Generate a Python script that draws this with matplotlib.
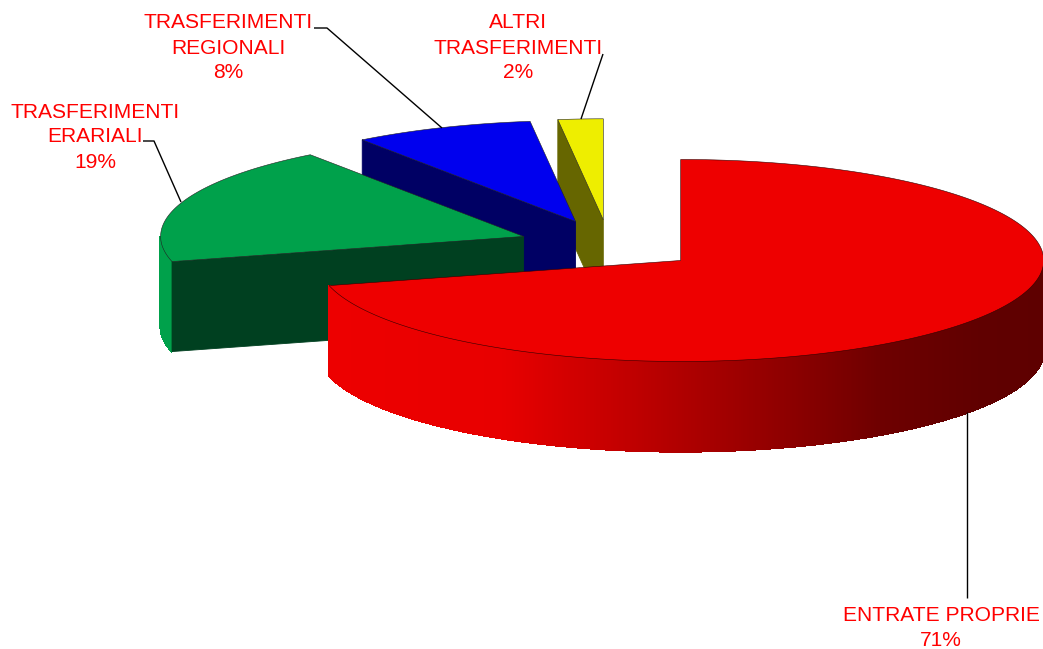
"""Exploded 3D-look pie of revenue shares, drawn with plain polygons."""

import matplotlib

matplotlib.use("Agg")
import matplotlib.pyplot as plt
import numpy as np
from matplotlib.patches import Polygon

plt.rcParams["font.family"] = ["Liberation Sans", "DejaVu Sans"]

LABELS = ["ENTRATE PROPRIE", "TRASFERIMENTI\nERARIALI", "TRASFERIMENTI\nREGIONALI", "ALTRI\nTRASFERIMENTI"]
SHARES = [71, 19, 8, 2]

TOP_COLORS = ["#ee0000", "#00a14b", "#0000ee", "#eeee00"]
CUT_COLORS = ["#ee0000", "#004020", "#000064", "#666600"]

# pie geometry in image pixels
CX, CY = 609, 245
RX, RY = 363, 101
DEPTH = 90
EXPLODE = 0.25

# shading of the outer wall from left to right
SHADE_X = [300, 500, 620, 760, 880, 980, 1043]
SHADE_R = [238, 232, 195, 150, 110, 96, 94]

# label centre, then leader line
LABEL_POS = [(941, 628), (95, 137), (228, 48), (518, 48)]
LEADERS = [
    [(967, 412), (967, 598)],
    [(143, 141), (154, 141), (181, 202)],
    [(314, 28), (327, 28), (442, 128)],
    [(603, 54), (581, 119)],
]


def rim(cx, cy, angles):
    a = np.radians(angles)
    return np.column_stack([cx + RX * np.sin(a), cy - RY * np.cos(a)])


def draw_slice(ax, i, start, end):
    mid = np.radians((start + end) / 2)
    cx = CX + EXPLODE * RX * np.sin(mid)
    cy = CY - EXPLODE * RY * np.cos(mid)
    down = np.array([0, DEPTH])

    # outer wall, only the part facing the viewer
    lo, hi = max(start, 90), min(end, 270)
    if lo < hi:
        angles = np.linspace(lo, hi, int((hi - lo) * 3) + 2)
        pts = rim(cx, cy, angles)
        for a, b in zip(pts[:-1], pts[1:]):
            level = np.interp((a[0] + b[0]) / 2, SHADE_X, SHADE_R) / 238
            base = matplotlib.colors.to_rgb(TOP_COLORS[i])
            color = tuple(c * level for c in base)
            ax.add_patch(Polygon([a, b, b + down, a + down], fc=color, ec=color, lw=1.0, antialiased=False))

    # flat cut face left by the explosion
    if i > 0:
        corner = rim(cx, cy, [start])[0]
        apex = np.array([cx, cy])
        ax.add_patch(Polygon([apex, corner, corner + down, apex + down],
                             fc=CUT_COLORS[i], ec=CUT_COLORS[i], lw=0.6))

    arc = rim(cx, cy, np.linspace(start, end, 300))
    ax.add_patch(Polygon(np.vstack([[cx, cy], arc]), fc=TOP_COLORS[i], ec="#300000" if i == 0 else "#222222", lw=0.4))


fig = plt.figure(figsize=(10.43, 6.49), dpi=100)
ax = fig.add_axes([0, 0, 1, 1])
ax.set_xlim(0, 1043)
ax.set_ylim(649, 0)
ax.axis("off")

edges = np.concatenate([[0], np.cumsum(SHARES)]) * 3.6
for i in reversed(range(len(SHARES))):
    draw_slice(ax, i, edges[i], edges[i + 1])

for label, share, pos, line in zip(LABELS, SHARES, LABEL_POS, LEADERS):
    ax.text(pos[0], pos[1], f"{label}\n{share}%", color="#ff0000", fontsize=15.1,
            ha="center", va="center", linespacing=1.4)
    xs, ys = zip(*line)
    ax.plot(xs, ys, color="black", lw=1.0, solid_capstyle="butt")

fig.savefig("out.png", dpi=100)
